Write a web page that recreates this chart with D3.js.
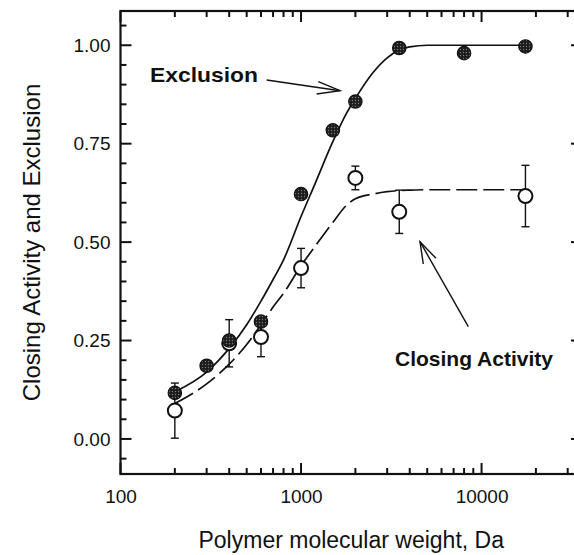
<!DOCTYPE html>
<html>
<head>
<meta charset="utf-8">
<script src="https://cdn.jsdelivr.net/npm/d3@7"></script>
<style>
  html, body { margin: 0; padding: 0; background: #fff; }
  svg { display: block; }
  text { font-family: "Liberation Sans", Arial, Helvetica, sans-serif; fill: #111; }
</style>
</head>
<body>
<script>
// Polymer molecular weight (Da) for each measured point
const mwExclusion = [200, 300, 400, 600, 1000, 1500, 2000, 3500, 8000, 17500];
const exclusion   = [0.117, 0.186, 0.25, 0.298, 0.622, 0.784, 0.857, 0.993, 0.98, 0.997];

const mwClosing  = [200, 400, 600, 1000, 2000, 3500, 17500];
const closing    = [0.072, 0.243, 0.259, 0.434, 0.663, 0.577, 0.617];
const closingErr = [0.07, 0.06, 0.05, 0.05, 0.03, 0.055, 0.078];

// Fitted curves, sampled along molecular weight
const mwFit        = [200, 300, 400, 500, 600, 700, 800, 1000, 1200, 1500, 1800, 2000, 2500, 3000, 3500, 4000, 5000, 8000, 17500];
const exclusionFit = [0.12, 0.17, 0.23, 0.29, 0.35, 0.405, 0.455, 0.565, 0.65, 0.755, 0.83, 0.865, 0.93, 0.968, 0.988, 0.996, 1.0, 1.0, 1.0];
const closingFit   = [0.09, 0.14, 0.19, 0.24, 0.29, 0.335, 0.37, 0.44, 0.49, 0.55, 0.595, 0.61, 0.622, 0.628, 0.631, 0.632, 0.633, 0.633, 0.633];

// Axis ticks
const xMajorTicks = [100, 1000, 10000];
const xTickLabels = ["100", "1000", "10000"];
const yMajorTicks = [0, 0.25, 0.5, 0.75, 1.0];
const yTickLabels = ["0.00", "0.25", "0.50", "0.75", "1.00"];

const W = 574, H = 555;
const plot = { left: 120.5, right: 582, top: 11, bottom: 474 };

const x = d3.scaleLog().domain([100, 36000]).range([plot.left, plot.right]);
const y = d3.scaleLinear().domain([-0.089, 1.087]).range([plot.bottom, plot.top]);

const svg = d3.select("body").append("svg").attr("width", W).attr("height", H);

// stippled fill for the solid markers
const defs = svg.append("defs");
const pat = defs.append("pattern").attr("id", "stipple")
  .attr("width", 3).attr("height", 3).attr("patternUnits", "userSpaceOnUse");
pat.append("rect").attr("width", 3).attr("height", 3).attr("fill", "#1c1c1c");
pat.append("circle").attr("cx", 1.5).attr("cy", 1.5).attr("r", 0.7).attr("fill", "#7a7a7a");

// minor tick values
const xMinor = [];
for (let d = 100; d < 36000; d *= 10) {
  for (let k = 2; k <= 9; k++) if (d * k < 36000) xMinor.push(d * k);
}
const yMinor = d3.range(-0.05, 1.0751, 0.05).map(v => +v.toFixed(2)).filter(v => !yMajorTicks.includes(v));

// tick labels via d3 axes
function styleLabels(g) {
  g.select(".domain").remove();
  g.selectAll(".tick line").remove();
  g.selectAll(".tick text").attr("font-size", 19).attr("fill", "#111");
}
svg.append("g").attr("transform", `translate(0,${plot.bottom})`)
  .call(d3.axisBottom(x).tickValues(xMajorTicks).tickSize(0).tickPadding(16)
    .tickFormat((d, i) => xTickLabels[i]))
  .call(styleLabels);
svg.append("g").attr("transform", `translate(${plot.left},0)`)
  .call(d3.axisLeft(y).tickValues(yMajorTicks).tickSize(0).tickPadding(10)
    .tickFormat((d, i) => yTickLabels[i]))
  .call(styleLabels);

// inward tick marks on all four sides
const tickLayer = svg.append("g").attr("stroke", "#111").attr("stroke-width", 2);
function xTicks(values, len) {
  values.forEach(v => {
    const px = x(v);
    tickLayer.append("line").attr("x1", px).attr("x2", px).attr("y1", plot.bottom).attr("y2", plot.bottom - len);
    tickLayer.append("line").attr("x1", px).attr("x2", px).attr("y1", plot.top).attr("y2", plot.top + len);
  });
}
function yTicks(values, len) {
  values.forEach(v => {
    const py = y(v);
    tickLayer.append("line").attr("x1", plot.left).attr("x2", plot.left + len).attr("y1", py).attr("y2", py);
    tickLayer.append("line").attr("x1", plot.right).attr("x2", plot.right - len).attr("y1", py).attr("y2", py);
  });
}
xTicks(xMajorTicks, 11);
xTicks(xMinor, 6);
yTicks(yMajorTicks, 11);
yTicks(yMinor, 6);

// frame
svg.append("rect")
  .attr("x", plot.left).attr("y", plot.top)
  .attr("width", plot.right - plot.left).attr("height", plot.bottom - plot.top)
  .attr("fill", "none").attr("stroke", "#111").attr("stroke-width", 2.2);

// fitted curves
const line = d3.line().curve(d3.curveMonotoneX);
const exclusionPts = mwFit.map((m, i) => [x(m), y(exclusionFit[i])]);
const closingPts = mwFit.map((m, i) => [x(m), y(closingFit[i])]);

svg.append("path").attr("d", line(exclusionPts))
  .attr("fill", "none").attr("stroke", "#111").attr("stroke-width", 1.7);
svg.append("path").attr("d", line(closingPts))
  .attr("fill", "none").attr("stroke", "#111").attr("stroke-width", 1.7)
  .attr("stroke-dasharray", "21,6");

// error bars for closing activity
const eb = svg.append("g").attr("stroke", "#111").attr("stroke-width", 1.4);
mwClosing.forEach((m, i) => {
  const cx = x(m), lo = y(closing[i] - closingErr[i]), hi = y(closing[i] + closingErr[i]);
  eb.append("line").attr("x1", cx).attr("x2", cx).attr("y1", lo).attr("y2", hi);
  eb.append("line").attr("x1", cx - 4).attr("x2", cx + 4).attr("y1", lo).attr("y2", lo);
  eb.append("line").attr("x1", cx - 4).attr("x2", cx + 4).attr("y1", hi).attr("y2", hi);
});

// closing activity: open circles
svg.append("g").selectAll("circle").data(mwClosing).join("circle")
  .attr("cx", d => x(d)).attr("cy", (d, i) => y(closing[i])).attr("r", 7)
  .attr("fill", "#fff").attr("stroke", "#111").attr("stroke-width", 2);

// exclusion: solid circles
svg.append("g").selectAll("circle").data(mwExclusion).join("circle")
  .attr("cx", d => x(d)).attr("cy", (d, i) => y(exclusion[i])).attr("r", 6.7)
  .attr("fill", "url(#stipple)").attr("stroke", "#111").attr("stroke-width", 1.2);

// annotations with arrows
svg.append("text").attr("x", 150).attr("y", 82)
  .attr("font-size", 21).attr("font-weight", "bold")
  .attr("textLength", 108).attr("lengthAdjust", "spacingAndGlyphs")
  .text("Exclusion");
svg.append("text").attr("x", 395).attr("y", 366)
  .attr("font-size", 21).attr("font-weight", "bold")
  .attr("textLength", 158).attr("lengthAdjust", "spacingAndGlyphs")
  .text("Closing Activity");

const arr = svg.append("g").attr("fill", "none").attr("stroke", "#111").attr("stroke-width", 1.4);
arr.append("path").attr("d", "M266.7,80 L340,90.7");
arr.append("path").attr("d", "M318.3,81.7 L340,90.7 L316.7,94");
arr.append("path").attr("d", "M468.3,326.7 L420,241.7");
arr.append("path").attr("d", "M423.3,264 L420,241.7 L436,258.3");

// axis titles
svg.append("text")
  .attr("x", (plot.left + plot.right) / 2).attr("y", 548)
  .attr("text-anchor", "middle").attr("font-size", 23)
  .text("Polymer molecular weight, Da");
svg.append("text")
  .attr("transform", `translate(40,${(plot.top + plot.bottom) / 2}) rotate(-90)`)
  .attr("text-anchor", "middle").attr("font-size", 24)
  .text("Closing Activity and Exclusion");
</script>
</body>
</html>
